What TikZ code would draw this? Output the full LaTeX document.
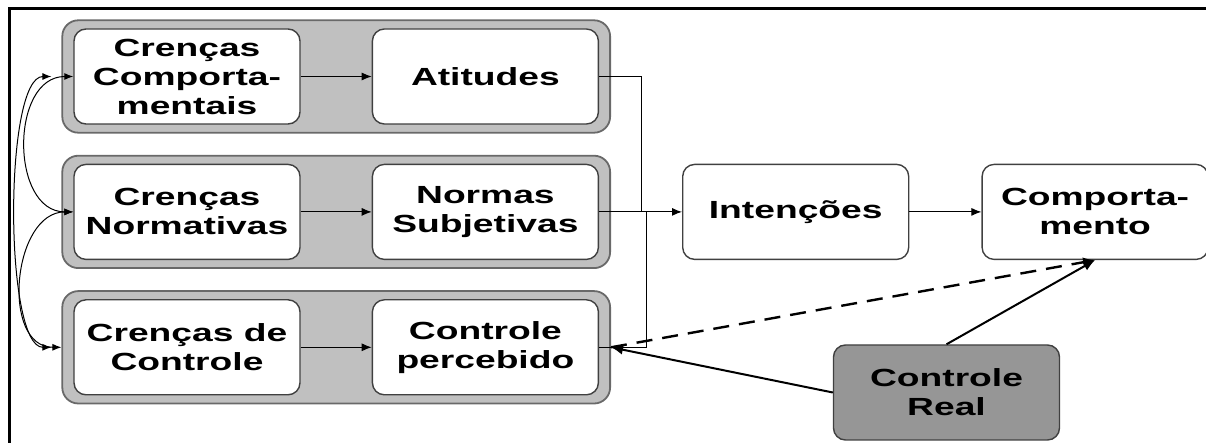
\documentclass[tikz,border=0pt]{standalone}
\usepackage{fontspec}
\setmainfont{Liberation Sans}[FakeStretch=1.5]
\usepackage{tikz}
\usetikzlibrary{arrows.meta, positioning, fit, backgrounds}
\definecolor{grpfill}{RGB}{192,192,192}
\definecolor{grpline}{RGB}{105,105,105}
\definecolor{realfill}{RGB}{150,150,150}
\definecolor{boxline}{RGB}{64,64,64}
\tikzset{
    box/.style={draw=boxline, line width=0.7pt, fill=white, rounded corners=6pt,
        minimum width=113pt, minimum height=47.5pt, inner sep=1pt, align=center,
        font=\bfseries\fontsize{12.4}{14.5}\selectfont},
    grp/.style={draw=grpline, line width=0.9pt, fill=grpfill, rounded corners=8pt,
        inner xsep=5.5pt, inner ysep=4pt},
    link/.style={line width=0.5pt, -{Latex[length=5pt,width=4pt]}},
    strong/.style={line width=1pt, -{Latex[length=6pt,width=5pt]}},
    twoway/.style={line width=0.5pt, {Latex[length=4.5pt,width=3.5pt]}-{Latex[length=4.5pt,width=3.5pt]}}
}
\begin{document}
\begin{tikzpicture}[x=0.5pt, y=-0.5pt]
    \useasboundingbox (0,0) rectangle (1206,443);
    \draw [line width=1.5pt] (9,443) |- (1206,9);
    \node [box] (cb) at (187,76.5) {Crenças\\Comporta-\\mentais};
    \node [box, right=35.5pt of cb] (at) {Atitudes};
    \node [box, below=19.5pt of cb] (cn) {Crenças\\Normativas};
    \node [box, right=35.5pt of cn] (ns) {Normas\\Subjetivas};
    \node [box, below=19.5pt of cn] (cc) {Crenças de\\Controle};
    \node [box, right=35.5pt of cc] (cp) {Controle\\percebido};
    \begin{scope}[on background layer]
        \node [grp, fit=(cb)(at)] (g1) {};
        \node [grp, fit=(cn)(ns)] (g2) {};
        \node [grp, fit=(cc)(cp)] (g3) {};
    \end{scope}
    \node [box, right=35.5pt of g2] (int) {Intenções};
    \node [box, right=36pt of int] (comp) {Comporta-\\mento};
    \node [box, fill=realfill] (real) at (946.5,392.5) {Controle\\Real};
    \draw [link] (cb) -- (at);
    \draw [link] (cn) -- (ns);
    \draw [link] (cc) -- (cp);
    \draw [link] (ns) -- (int);
    \draw [link] (int) -- (comp);
    \draw [line width=0.5pt] (at.east) -| ([xshift=21pt]ns.east);
    \draw [line width=0.5pt] (cp.east) -| ([xshift=23.5pt]ns.east);
    \draw [strong] (real.west) -- (g3.east);
    \draw [strong] (real.north) -- (comp.south);
    \draw [strong, line width=1.2pt, dash pattern=on 8pt off 5pt] (g3.east) -- (comp.south);
    \draw [twoway] (cb.west) to [out=180, in=180, looseness=1.2] (cn.west);
    \draw [twoway] (cn.west) to [out=180, in=180, looseness=1.15] (g3.west);
    \draw [twoway] ([xshift=-5pt]g1.west) to [out=180, in=180, looseness=0.45] ([xshift=-5pt]g3.west);
\end{tikzpicture}
\end{document}
